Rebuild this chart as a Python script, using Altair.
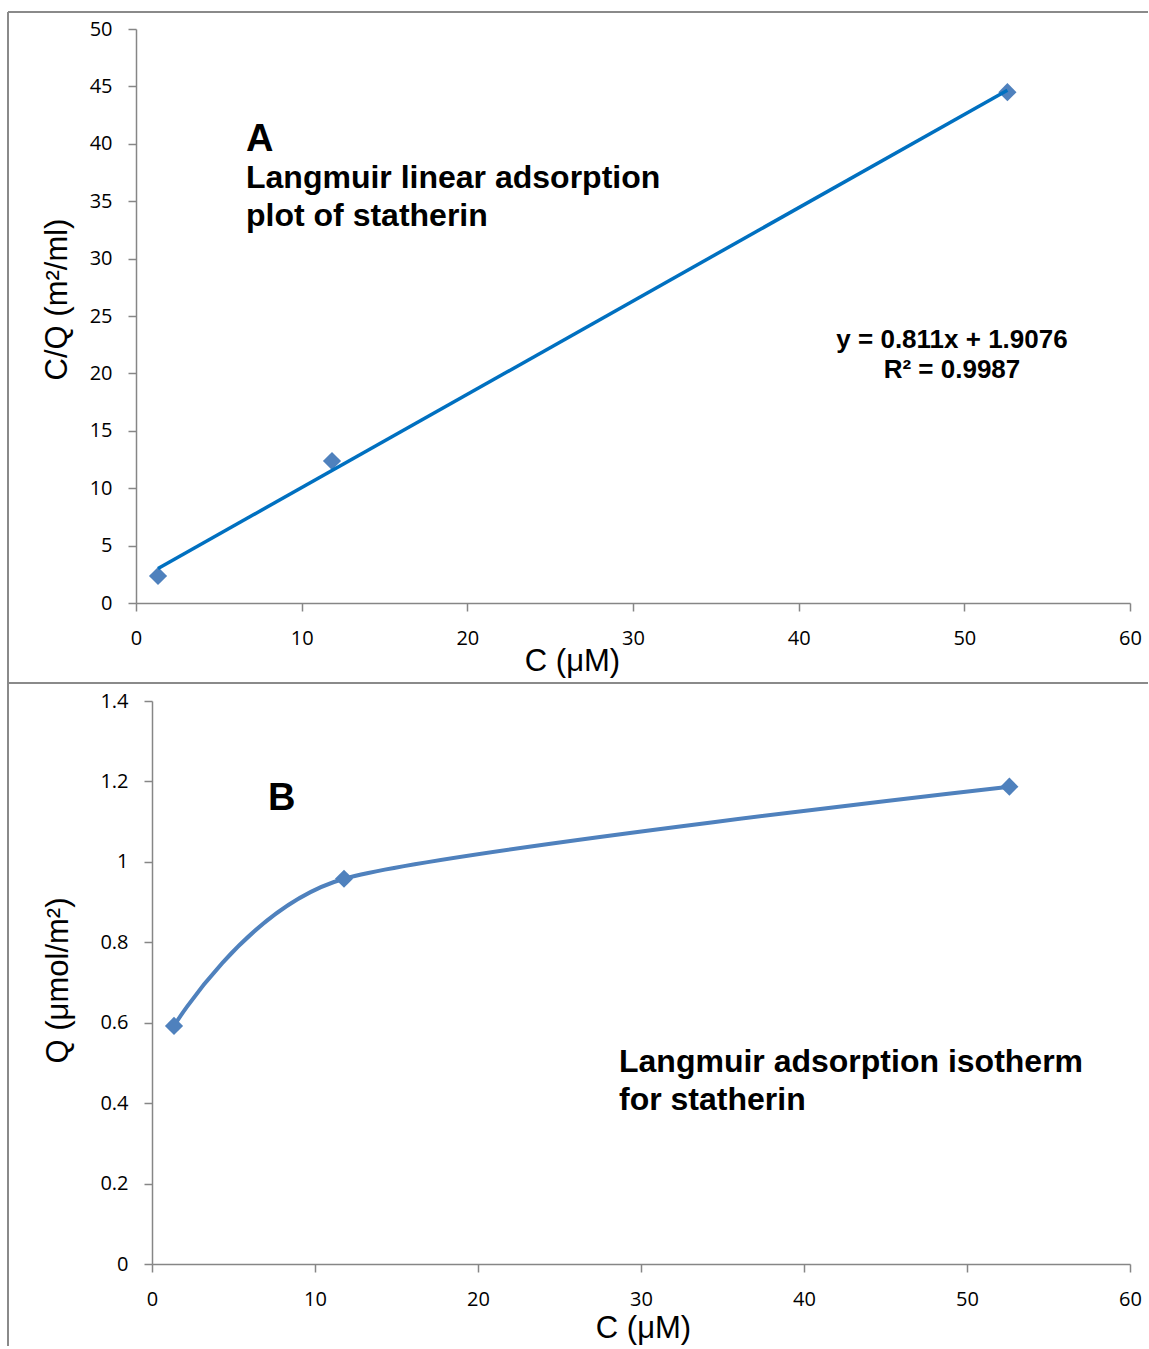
import altair as alt
import pandas as pd

# ---------------- data ----------------
# Panel A: Langmuir linear plot (C vs C/Q)
a_c = [1.33, 11.83, 52.6]
a_cq = [2.35, 12.37, 44.5]
# Panel B: Langmuir isotherm (C vs Q)
b_c = [1.35, 11.78, 52.6]
b_q = [0.592, 0.958, 1.187]

x_ticks = [0, 10, 20, 30, 40, 50, 60]
a_y_ticks = [0, 5, 10, 15, 20, 25, 30, 35, 40, 45, 50]
b_y_ticks = [0, 0.2, 0.4, 0.6, 0.8, 1, 1.2, 1.4]

a_title_lines = ["Langmuir linear adsorption", "plot of statherin"]
b_title_lines = ["Langmuir adsorption isotherm", "for statherin"]
equation_lines = ["y = 0.811x + 1.9076", "R\u00b2 = 0.9987"]

# ---------------- styles ----------------
AXIS_COLOR = "#868686"
BORDER_COLOR = "#8a8a8a"
MARKER_COLOR = "#4F81BD"
TREND_COLOR = "#0070C0"
LABEL_FONT = "Open Sans"
TEXT_FONT = "Liberation Sans"

df_a = pd.DataFrame({"C": a_c, "CQ": a_cq})
df_b = pd.DataFrame({"C": b_c, "Q": b_q})
one = pd.DataFrame({"k": [0]})


def axis(values, title, orient, **kw):
    base = dict(
        values=values,
        title=title,
        grid=False,
        domainColor=AXIS_COLOR,
        domainWidth=1.5,
        tickColor=AXIS_COLOR,
        tickWidth=1.5,
        tickSize=8,
        labelFont=LABEL_FONT,
        labelFontSize=20,
        labelColor="#000000",
        labelFlush=False,
        labelOverlap=False,
        titleFont=TEXT_FONT,
        titleFontSize=31,
        titleFontWeight="normal",
        titleColor="#000000",
        titleAlign="center",
        titleBaseline="alphabetic",
    )
    if orient == "x":
        base.update(labelPadding=17)
    else:
        base.update(labelPadding=16, titleAngle=270, format="~g")
    base.update(kw)
    return alt.Axis(**base)


def text(label, x, y, size, align="left"):
    return alt.Chart(one).mark_text(
        text=label, font=TEXT_FONT, fontSize=size, fontWeight="bold",
        align=align, baseline="alphabetic", color="#000000"
    ).encode(x=alt.value(x), y=alt.value(y))


def hrule(x, x2, y):
    return alt.Chart(one).mark_rule(color=BORDER_COLOR, strokeWidth=2).encode(
        x=alt.value(x), x2=alt.value(x2), y=alt.value(y)
    )


def vrule(x, y, y2):
    return alt.Chart(one).mark_rule(color=BORDER_COLOR, strokeWidth=2).encode(
        x=alt.value(x), y=alt.value(y), y2=alt.value(y2)
    )


# ---------------- panel A ----------------
xa = alt.X("C:Q", scale=alt.Scale(domain=[0, 60], nice=False),
           axis=axis(x_ticks, "C (\u03bcM)", "x", titleX=436, titleY=67))
ya = alt.Y("CQ:Q", scale=alt.Scale(domain=[0, 50], nice=False),
           axis=axis(a_y_ticks, "C/Q (m\u00b2/ml)", "y", titleX=-70, titleY=270))

pts_a = alt.Chart(df_a).mark_point(
    shape="diamond", filled=True, size=330, color=MARKER_COLOR, opacity=1
).encode(x=xa, y=ya)

trend_a = alt.Chart(df_a).transform_regression("C", "CQ").mark_line(
    color=TREND_COLOR, strokeWidth=3.5
).encode(x=alt.X("C:Q"), y=alt.Y("CQ:Q"))

panel_a = alt.layer(
    pts_a,
    trend_a,
    text("A", 110, 122, 38),
    text(a_title_lines[0], 110, 159, 32),
    text(a_title_lines[1], 110, 197, 32),
    text(equation_lines[0], 816, 319, 26, "center"),
    text(equation_lines[1], 816, 349, 26, "center"),
    hrule(-128, 1012, -17),
    vrule(-128, -17, 654),
    hrule(-128, 1012, 654),
).properties(width=994, height=574)

# ---------------- panel B ----------------
xb = alt.X("C:Q", scale=alt.Scale(domain=[0, 60], nice=False, range=[16, 994]),
           axis=axis(x_ticks, "C (\u03bcM)", "x", titleX=507, titleY=73))
yb = alt.Y("Q:Q", scale=alt.Scale(domain=[0, 1.4], nice=False),
           axis=axis(b_y_ticks, "Q (\u03bcmol/m\u00b2)", "y", titleX=-85, titleY=279,
                     offset=-16))

line_b = alt.Chart(df_b).mark_line(
    color=MARKER_COLOR, strokeWidth=4, interpolate="cardinal", tension=0.3
).encode(x=xb, y=yb)

pts_b = alt.Chart(df_b).mark_point(
    shape="diamond", filled=True, size=330, color=MARKER_COLOR, opacity=1
).encode(x=alt.X("C:Q"), y=alt.Y("Q:Q"))

panel_b = alt.layer(
    line_b,
    pts_b,
    text("B", 132, 109, 38),
    text(b_title_lines[0], 483, 371, 32),
    text(b_title_lines[1], 483, 409, 32),
    vrule(-128, -18, 645),
).properties(width=994, height=563)

chart = alt.vconcat(panel_a, panel_b, spacing=98, bounds="flush").properties(
    padding={"left": 7, "top": 11, "right": 0, "bottom": 0},
    background="#ffffff",
).configure_view(strokeWidth=0)

chart.save("out.html", embed_options={"renderer": "svg", "actions": False})
